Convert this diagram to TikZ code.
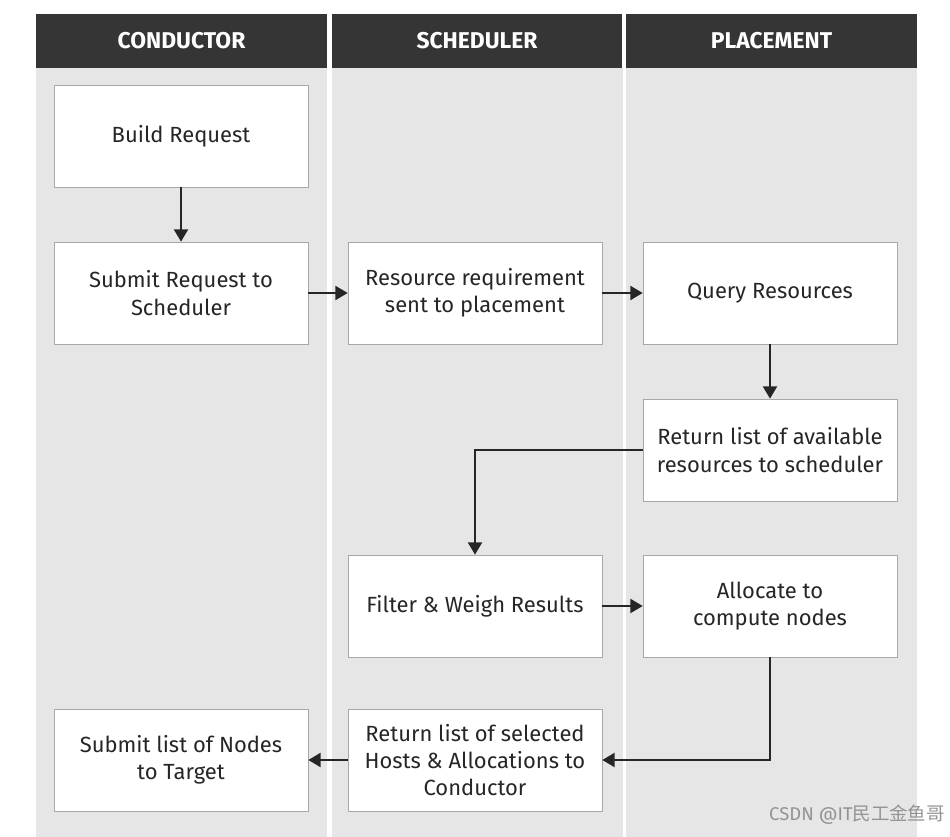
\documentclass[tikz,border=0pt]{standalone}
\usepackage{fontspec}
\setmainfont{Fira Sans}
\newfontfamily\cjkfont{Noto Sans CJK SC}
\usetikzlibrary{arrows.meta}
\definecolor{laneGray}{HTML}{E6E6E6}
\definecolor{headGray}{HTML}{353535}
\definecolor{boxLine}{HTML}{A8A8A8}
\definecolor{inkGray}{HTML}{262626}
\begin{document}
\begin{tikzpicture}
[x=0.02cm,y=-0.02cm,
  headDecorate/.style={shape=rectangle,fill=headGray,text=white,
    minimum width=5.82cm,minimum height=1.08cm,inner sep=0pt,
    font=\fontsize{13}{15}\selectfont\bfseries},%
  boxDecorate/.style={shape=rectangle,draw=boxLine,fill=white,thin,
    minimum width=5.08cm,minimum height=2.04cm,align=center,
    text=inkGray,font=\fontsize{12.5}{15.5}\selectfont},%
  lineDecorate/.style={-{Triangle[width=8pt,length=7pt]},line width=1.1pt,
    color=inkGray}]
\useasboundingbox (0,0) rectangle (950,837);
\fill[white] (0,0) rectangle (950,837);
%% lanes and headers
\foreach \lanename/\x/\title in {
  conductor/181.5/CONDUCTOR, scheduler/477/SCHEDULER, placement/771.5/PLACEMENT}
{
  \fill[laneGray] (\x-145.5,68) rectangle (\x+145.5,837);
  \node (\lanename) at (\x,41) [headDecorate] {\title};
}
%% boxes
\foreach \nodename/\x/\y/\txt in {
  build/181/136/{Build Request},
  submit/181/293/{Submit Request to\\Scheduler},
  resource/475/293/{Resource requirement\\sent to placement},
  query/770/293/{Query Resources},
  avail/770/450/{Return list of available\\resources to scheduler},
  filter/475/606/{Filter \& Weigh Results},
  allocate/770/606/{Allocate to\\compute nodes},
  target/181/760/{Submit list of Nodes\\to Target},
  selected/475/760/{Return list of selected\\Hosts \& Allocations to\\Conductor}}
{
  \node (\nodename) at (\x,\y) [boxDecorate] {\txt};
}
%% arrows
\path
\foreach \startnode/\endnode in {
  build/submit, submit/resource, resource/query, query/avail,
  filter/allocate, selected/target}
{
  (\startnode) edge[lineDecorate] (\endnode)
};
\draw[lineDecorate] (avail.west) -| (filter.north);
\draw[lineDecorate] (allocate.south) |- (selected.east);
%% watermark
\node (mark) at (857,815) [text=gray!85,font=\fontsize{10.5}{12}\selectfont] {CSDN @IT{\cjkfont 民工金鱼哥}};
\end{tikzpicture}
\end{document}
